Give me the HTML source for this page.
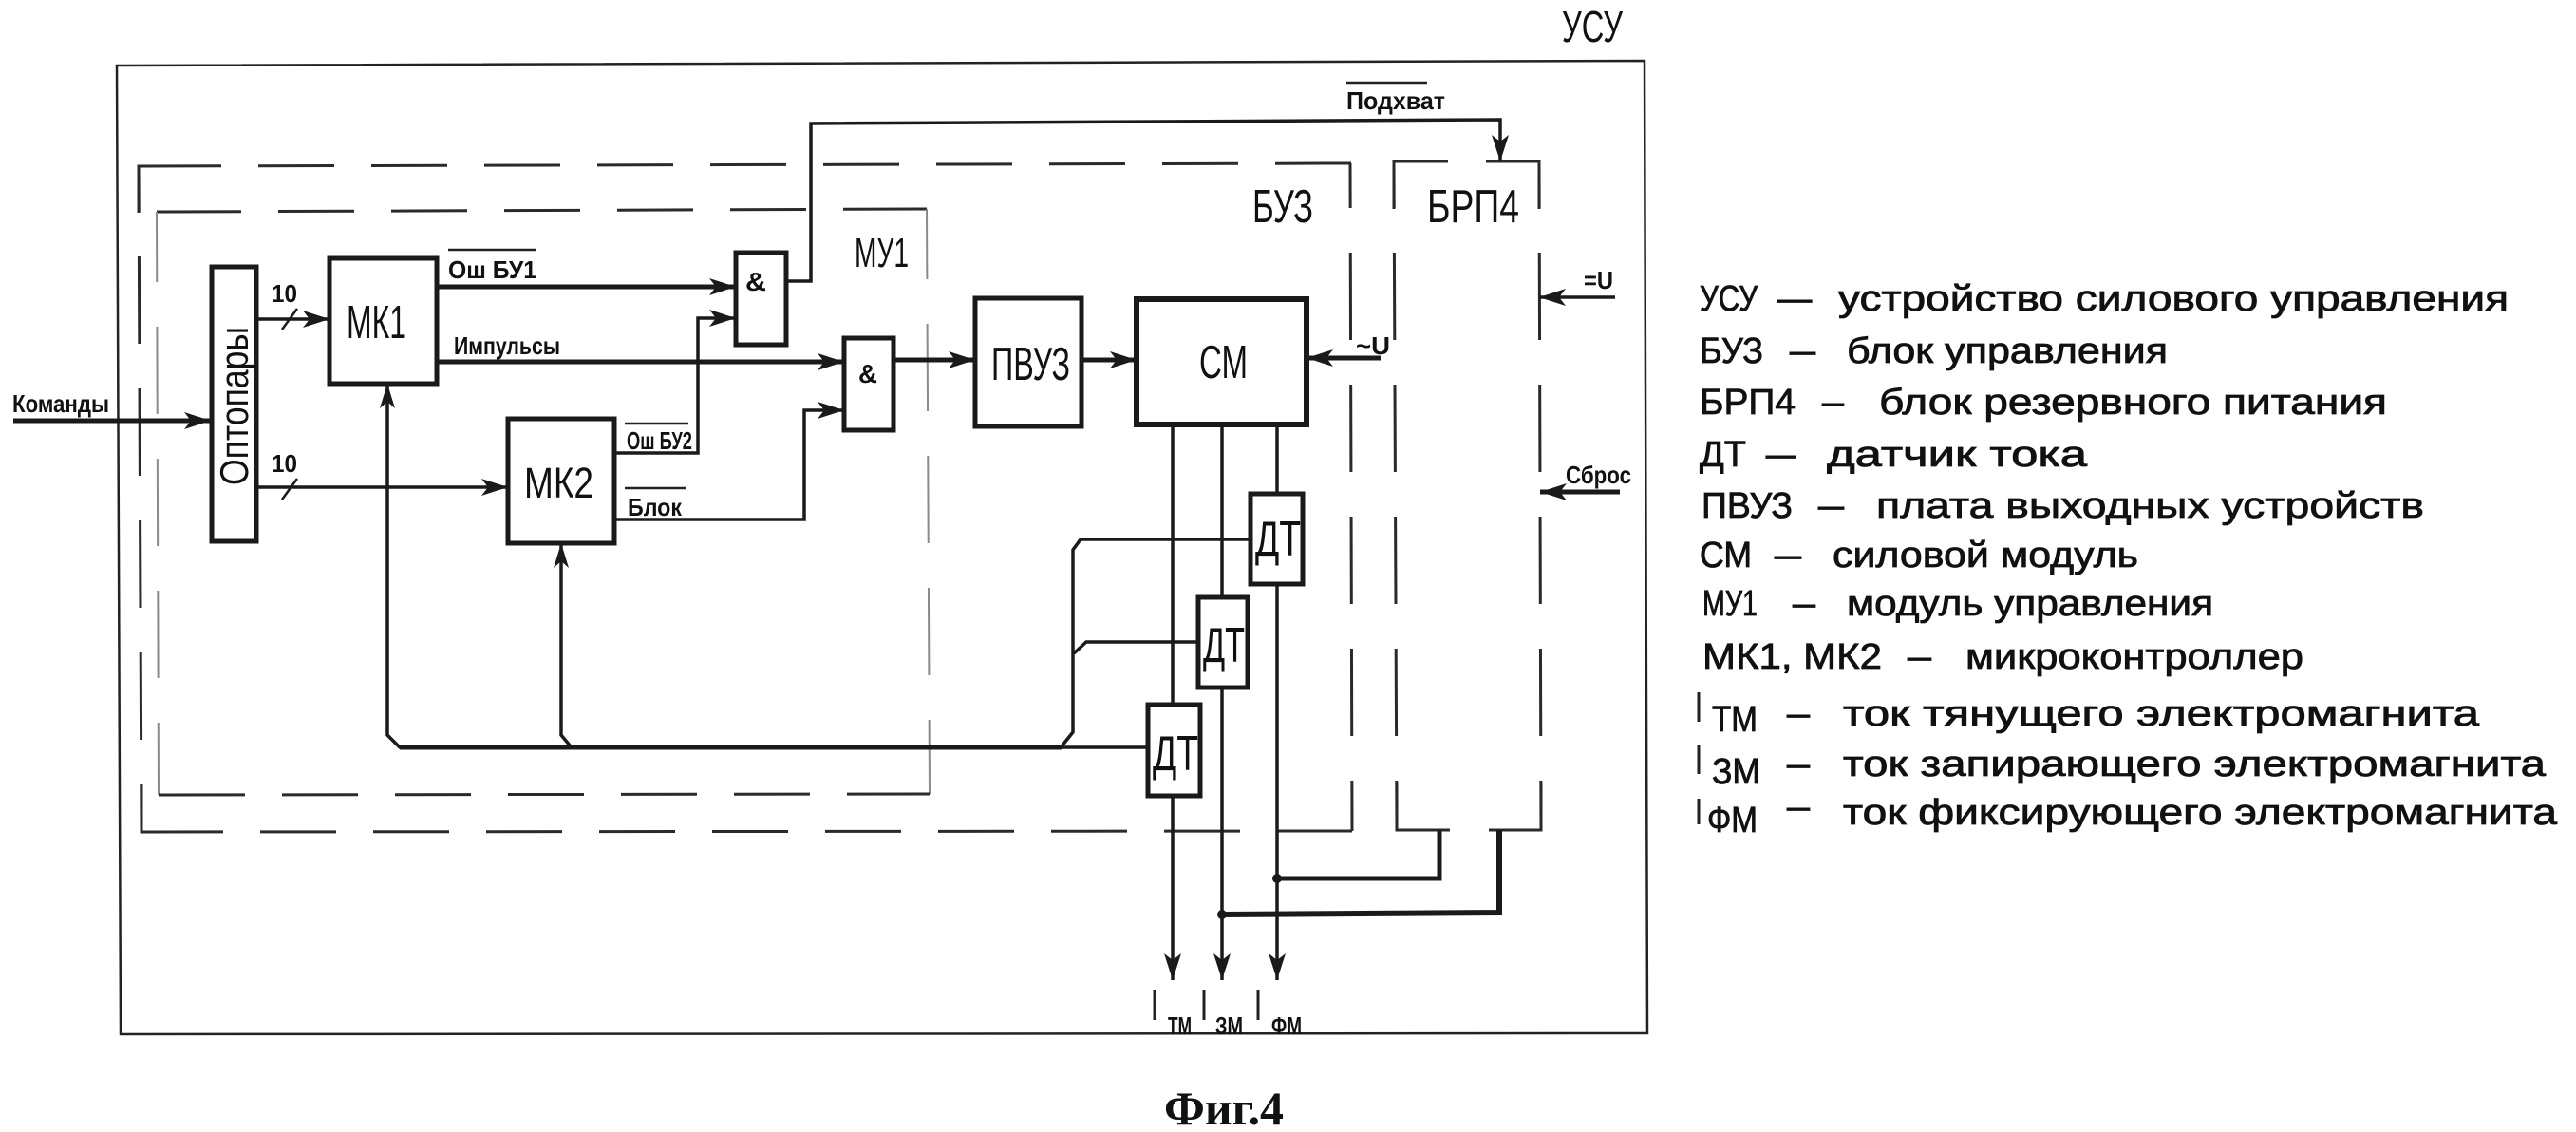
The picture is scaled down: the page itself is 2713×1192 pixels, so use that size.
<!DOCTYPE html>
<html lang="ru">
<head>
<meta charset="utf-8">
<title>Фиг.4</title>
<style>
html,body{margin:0;padding:0;background:#fff;width:2713px;height:1192px;overflow:hidden}
svg{display:block}
text{font-family:"Liberation Sans",sans-serif;fill:#111}
.d{fill:none;stroke:#2a2a2a;stroke-width:3}
.m{fill:none;stroke:#8a8a8a;stroke-width:2}
.b{fill:#fff;stroke:#1a1a1a;stroke-width:5}
.w{fill:none;stroke:#1a1a1a;stroke-width:5;stroke-linejoin:miter}
.t{fill:none;stroke:#1a1a1a;stroke-width:3.5;stroke-linejoin:miter}
.h{fill:#1a1a1a;stroke:none}
.l{font-size:38px;stroke:#111;stroke-width:.8px}
.s{font-size:26px;font-weight:bold}
.n{font-size:49px}
</style>
</head>
<body>
<svg width="2713" height="1192" viewBox="0 0 2713 1192" xmlns="http://www.w3.org/2000/svg">
<defs>
<marker id="a" markerUnits="userSpaceOnUse" markerWidth="34" markerHeight="22" refX="30" refY="11" orient="auto">
<path class="h" d="M2 2 L30 11 L2 20 L9 11 Z"/>
</marker>
</defs>

<!-- outer УСУ -->
<polygon points="123,69 1732,64 1735,1088 127,1089" fill="none" stroke="#222" stroke-width="2.5"/>

<!-- БУЗ dashed -->
<path class="d" d="M146,224 L146,175 L153,175"/>
<line class="d" x1="153" y1="175" x2="1423" y2="172" stroke-dasharray="80 39"/>
<line class="d" x1="146" y1="175" x2="149" y2="876" stroke-dasharray="92 47" stroke-dashoffset="44"/>
<path class="d" d="M149,826 L149,876 L155,876"/>
<line class="d" x1="155" y1="876" x2="1424" y2="875" stroke-dasharray="80 39"/>
<line class="d" x1="1422" y1="172" x2="1424" y2="875" stroke-dasharray="92 47" stroke-dashoffset="45"/>

<!-- МУ1 dashed -->
<path class="d" d="M174,223 L165,223"/>
<line class="d" x1="174" y1="223" x2="968" y2="220" stroke-dasharray="80 39"/>
<path class="d" d="M968,220 L976,220"/>
<line class="m" x1="165" y1="223" x2="167" y2="837" stroke-dasharray="92 47" stroke-dashoffset="18"/>
<line class="m" x1="976" y1="220" x2="979" y2="836" stroke-dasharray="92 47" stroke-dashoffset="18"/>
<path class="d" d="M167,837 L178,837"/>
<line class="d" x1="178" y1="837" x2="972" y2="836" stroke-dasharray="80 39"/>
<path class="d" d="M972,836 L979,836"/>

<!-- БРП4 dashed -->
<path class="d" d="M1468,220 L1468,170 L1525,170"/>
<path class="d" d="M1565,170 L1621,170 L1621,220"/>
<line class="d" x1="1468" y1="170" x2="1471" y2="874" stroke-dasharray="92 47" stroke-dashoffset="43"/>
<line class="d" x1="1621" y1="170" x2="1623" y2="874" stroke-dasharray="92 47" stroke-dashoffset="43"/>
<path class="d" d="M1471,824 L1471,874 L1527,874"/>
<path class="d" d="M1568,874 L1623,874 L1623,824"/>

<!-- connectors -->
<line x1="14" y1="443" x2="222" y2="443" class="w" marker-end="url(#a)"/>
<line x1="270" y1="336" x2="347" y2="336" class="t" marker-end="url(#a)"/>
<line x1="297" y1="347" x2="313" y2="325" stroke="#1a1a1a" stroke-width="2.5"/>
<line x1="270" y1="513" x2="535" y2="513" class="t" marker-end="url(#a)"/>
<line x1="297" y1="526" x2="313" y2="504" stroke="#1a1a1a" stroke-width="2.5"/>
<line x1="460" y1="302" x2="775" y2="302" class="w" marker-end="url(#a)"/>
<line x1="460" y1="381" x2="889" y2="381" class="w" marker-end="url(#a)"/>
<polyline points="647,477 735,477 735,335 775,335" class="t" marker-end="url(#a)"/>
<polyline points="647,547 847,547 847,432 889,432" class="t" marker-end="url(#a)"/>
<polyline points="828,296 854,296 854,130 1580,126 1580,170" class="t" marker-end="url(#a)"/>
<line x1="941" y1="379" x2="1027" y2="379" class="w" marker-end="url(#a)"/>
<line x1="1139" y1="379" x2="1197" y2="379" class="w" marker-end="url(#a)"/>
<line x1="1454" y1="377" x2="1376" y2="377" class="w" marker-end="url(#a)"/>
<line x1="1701" y1="313" x2="1621" y2="313" class="t" marker-end="url(#a)"/>
<line x1="1706" y1="518" x2="1622" y2="518" class="w" marker-end="url(#a)"/>

<!-- feedback bus -->
<polyline points="408,404 408,774 421,787 1209,787" class="t"/>
<polyline points="591,572 591,774 601,786" class="t"/>
<path class="h" d="M408,404 L400,430 L408,423 L416,430 Z"/>
<path class="h" d="M591,572 L583,598 L591,591 L599,598 Z"/>
<line x1="421" y1="787" x2="1118" y2="787" class="w"/>
<polyline points="1317,568 1138,568 1130,579 1130,771 1118,786" class="t"/>
<polyline points="1262,676 1144,676 1131,688" class="t"/>

<!-- vertical outputs -->
<line x1="1235" y1="447" x2="1235" y2="1032" class="t" marker-end="url(#a)"/>
<line x1="1287" y1="447" x2="1287" y2="1032" class="t" marker-end="url(#a)"/>
<line x1="1345" y1="447" x2="1345" y2="1032" class="t" marker-end="url(#a)"/>
<polyline points="1345,925 1516,925 1516,874" class="w"/>
<polyline points="1287,963 1579,961 1579,874" class="w" style="stroke-width:6"/>
<circle cx="1345" cy="925" r="5" class="h"/>
<circle cx="1287" cy="963" r="5" class="h"/>

<!-- boxes -->
<rect x="223" y="281" width="47" height="289" class="b"/>
<rect x="347" y="272" width="113" height="132" class="b"/>
<rect x="535" y="441" width="112" height="131" class="b"/>
<rect x="775" y="266" width="53" height="97" class="b"/>
<rect x="889" y="356" width="52" height="97" class="b"/>
<rect x="1027" y="314" width="112" height="135" class="b"/>
<rect x="1197" y="315" width="179" height="132" class="b" style="stroke-width:6"/>
<rect x="1209" y="742" width="55" height="96" class="b"/>
<rect x="1262" y="629" width="52" height="95" class="b"/>
<rect x="1317" y="520" width="55" height="95" class="b"/>

<!-- node labels -->
<text class="n" x="1645" y="44" textLength="64" lengthAdjust="spacingAndGlyphs" style="font-size:46px">УСУ</text>
<text class="n" x="1319" y="234" textLength="64" lengthAdjust="spacingAndGlyphs">БУЗ</text>
<text class="n" x="1503" y="234" textLength="97" lengthAdjust="spacingAndGlyphs">БРП4</text>
<text class="n" x="900" y="281" textLength="57" lengthAdjust="spacingAndGlyphs" style="font-size:44px">МУ1</text>
<text class="n" x="365" y="356" textLength="63" lengthAdjust="spacingAndGlyphs">МК1</text>
<text class="n" x="552" y="524" textLength="73" lengthAdjust="spacingAndGlyphs" style="font-size:45px">МК2</text>
<text class="n" x="1044" y="400" textLength="83" lengthAdjust="spacingAndGlyphs">ПВУЗ</text>
<text class="n" x="1263" y="398" textLength="51" lengthAdjust="spacingAndGlyphs">СМ</text>
<text class="n" x="1322" y="585" textLength="48" lengthAdjust="spacingAndGlyphs" style="font-size:52px">ДТ</text>
<text class="n" x="1267" y="697" textLength="44" lengthAdjust="spacingAndGlyphs" style="font-size:52px">ДТ</text>
<text class="n" x="1214" y="811" textLength="48" lengthAdjust="spacingAndGlyphs" style="font-size:52px">ДТ</text>
<text transform="translate(261,511) rotate(-90)" textLength="167" lengthAdjust="spacingAndGlyphs" style="font-size:42px">Оптопары</text>
<text x="785" y="306" textLength="22" lengthAdjust="spacingAndGlyphs" style="font-size:28px;font-weight:bold">&amp;</text>
<text x="904" y="403" textLength="20" lengthAdjust="spacingAndGlyphs" style="font-size:28px;font-weight:bold">&amp;</text>

<!-- small labels -->
<text class="s" x="13" y="434" textLength="102" lengthAdjust="spacingAndGlyphs">Команды</text>
<text class="s" x="286" y="318" textLength="27" lengthAdjust="spacingAndGlyphs">10</text>
<text class="s" x="286" y="497" textLength="27" lengthAdjust="spacingAndGlyphs">10</text>
<text class="s" x="472" y="293" textLength="93" lengthAdjust="spacingAndGlyphs">Ош  БУ1</text>
<line x1="472" y1="263" x2="565" y2="263" stroke="#222" stroke-width="2.5"/>
<text class="s" x="478" y="373" textLength="112" lengthAdjust="spacingAndGlyphs">Импульсы</text>
<text class="s" x="660" y="473" textLength="69" lengthAdjust="spacingAndGlyphs">Ош БУ2</text>
<line x1="658" y1="446" x2="725" y2="446" stroke="#222" stroke-width="2.5"/>
<text class="s" x="661" y="543" textLength="57" lengthAdjust="spacingAndGlyphs">Блок</text>
<line x1="658" y1="514" x2="722" y2="514" stroke="#222" stroke-width="2.5"/>
<text class="s" x="1418" y="115" textLength="104" lengthAdjust="spacingAndGlyphs">Подхват</text>
<line x1="1418" y1="87" x2="1503" y2="87" stroke="#222" stroke-width="2.5"/>
<text class="s" x="1428" y="373" textLength="36" lengthAdjust="spacingAndGlyphs">~U</text>
<text class="s" x="1668" y="304" textLength="31" lengthAdjust="spacingAndGlyphs">=U</text>
<text class="s" x="1649" y="509" textLength="69" lengthAdjust="spacingAndGlyphs">Сброс</text>

<!-- output labels -->
<line x1="1216" y1="1042" x2="1216" y2="1074" stroke="#222" stroke-width="3"/>
<text class="s" x="1230" y="1089" textLength="25" lengthAdjust="spacingAndGlyphs">ТМ</text>
<line x1="1268" y1="1042" x2="1268" y2="1074" stroke="#222" stroke-width="3"/>
<text class="s" x="1280" y="1089" textLength="29" lengthAdjust="spacingAndGlyphs">ЗМ</text>
<line x1="1325" y1="1042" x2="1325" y2="1074" stroke="#222" stroke-width="3"/>
<text class="s" x="1339" y="1089" textLength="32" lengthAdjust="spacingAndGlyphs">ФМ</text>

<!-- legend -->
<g class="leg">
<text class="l" x="1790" y="327" textLength="61" lengthAdjust="spacingAndGlyphs">УСУ</text><text class="l" x="1872" y="327" textLength="36" lengthAdjust="spacingAndGlyphs">–</text><text class="l" x="1936" y="327" textLength="706" lengthAdjust="spacingAndGlyphs">устройство  силового  управления</text>
<text class="l" x="1790" y="382" textLength="67" lengthAdjust="spacingAndGlyphs">БУЗ</text><text class="l" x="1885" y="382" textLength="27" lengthAdjust="spacingAndGlyphs">–</text><text class="l" x="1945" y="382" textLength="338" lengthAdjust="spacingAndGlyphs">блок  управления</text>
<text class="l" x="1790" y="436" textLength="101" lengthAdjust="spacingAndGlyphs">БРП4</text><text class="l" x="1919" y="436" textLength="23" lengthAdjust="spacingAndGlyphs">–</text><text class="l" x="1979" y="436" textLength="535" lengthAdjust="spacingAndGlyphs">блок  резервного  питания</text>
<text class="l" x="1790" y="491" textLength="49" lengthAdjust="spacingAndGlyphs">ДТ</text><text class="l" x="1860" y="491" textLength="31" lengthAdjust="spacingAndGlyphs">–</text><text class="l" x="1924" y="491" textLength="274" lengthAdjust="spacingAndGlyphs">датчик  тока</text>
<text class="l" x="1792" y="545" textLength="96" lengthAdjust="spacingAndGlyphs">ПВУЗ</text><text class="l" x="1915" y="545" textLength="27" lengthAdjust="spacingAndGlyphs">–</text><text class="l" x="1976" y="545" textLength="577" lengthAdjust="spacingAndGlyphs">плата  выходных  устройств</text>
<text class="l" x="1790" y="597" textLength="55" lengthAdjust="spacingAndGlyphs">СМ</text><text class="l" x="1869" y="597" textLength="28" lengthAdjust="spacingAndGlyphs">–</text><text class="l" x="1930" y="597" textLength="322" lengthAdjust="spacingAndGlyphs">силовой  модуль</text>
<text class="l" x="1793" y="648" textLength="58" lengthAdjust="spacingAndGlyphs">МУ1</text><text class="l" x="1888" y="648" textLength="24" lengthAdjust="spacingAndGlyphs">–</text><text class="l" x="1945" y="648" textLength="386" lengthAdjust="spacingAndGlyphs">модуль  управления</text>
<text class="l" x="1793" y="704" textLength="189" lengthAdjust="spacingAndGlyphs">МК1,  МК2</text><text class="l" x="2009" y="704" textLength="25" lengthAdjust="spacingAndGlyphs">–</text><text class="l" x="2070" y="704" textLength="356" lengthAdjust="spacingAndGlyphs">микроконтроллер</text>
<line x1="1789" y1="729" x2="1789" y2="760" stroke="#222" stroke-width="3"/>
<text class="l" x="1803" y="770" textLength="48" lengthAdjust="spacingAndGlyphs">ТМ</text><text class="l" x="1882" y="764" textLength="24" lengthAdjust="spacingAndGlyphs">–</text><text class="l" x="1941" y="764" textLength="670" lengthAdjust="spacingAndGlyphs">ток  тянущего  электромагнита</text>
<line x1="1789" y1="784" x2="1789" y2="815" stroke="#222" stroke-width="3"/>
<text class="l" x="1803" y="825" textLength="51" lengthAdjust="spacingAndGlyphs">ЗМ</text><text class="l" x="1882" y="817" textLength="24" lengthAdjust="spacingAndGlyphs">–</text><text class="l" x="1941" y="817" textLength="740" lengthAdjust="spacingAndGlyphs">ток  запирающего  электромагнита</text>
<line x1="1789" y1="841" x2="1789" y2="868" stroke="#222" stroke-width="3"/>
<text class="l" x="1798" y="876" textLength="53" lengthAdjust="spacingAndGlyphs">ФМ</text><text class="l" x="1882" y="862" textLength="24" lengthAdjust="spacingAndGlyphs">–</text><text class="l" x="1941" y="868" textLength="752" lengthAdjust="spacingAndGlyphs">ток  фиксирующего  электромагнита</text>
</g>

<!-- caption -->
<text x="1226" y="1184" textLength="126" lengthAdjust="spacingAndGlyphs" style="font-family:'Liberation Serif',serif;font-weight:bold;font-size:50px">Фиг.4</text>
</svg>
</body>
</html>
